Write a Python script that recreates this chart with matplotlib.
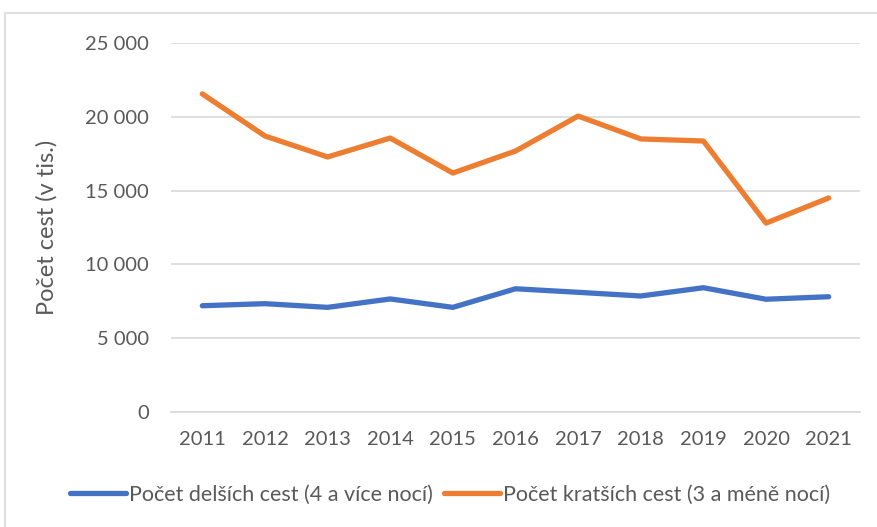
import matplotlib.pyplot as plt
from matplotlib.ticker import FuncFormatter
from matplotlib.patches import Rectangle

# values in thousands of trips
years = ['2011', '2012', '2013', '2014', '2015', '2016', '2017', '2018', '2019', '2020', '2021']
longer = [7200, 7340, 7090, 7660, 7090, 8350, 8110, 7860, 8420, 7640, 7810]
shorter = [21550, 18700, 17280, 18560, 16190, 17680, 20050, 18500, 18360, 12800, 14500]

plt.rcParams['font.family'] = ['Lato', 'DejaVu Sans']
text_col = '#595959'

fig = plt.figure(figsize=(8.77, 5.27), dpi=100)
ax = fig.add_axes([0.195, 0.2182, 0.7856, 0.7002])

# outer chart frame
fig.patches.append(Rectangle((5 / 877, -0.05), 1.0, 1 - 13 / 527 + 0.05, transform=fig.transFigure,
                             fill=False, edgecolor='#d9d9d9', linewidth=1.2))

x = range(len(years))
ax.plot(x, longer, color='#4472C4', linewidth=3.8, solid_capstyle='round',
        label='Počet delších cest (4 a více nocí)')
ax.plot(x, shorter, color='#ED7D31', linewidth=3.8, solid_capstyle='round',
        label='Počet kratších cest (3 a méně nocí)')

ax.set_xlim(-0.5, len(years) - 0.5)
ax.set_ylim(0, 25000)
ax.set_yticks(range(0, 25001, 5000))
ax.yaxis.set_major_formatter(FuncFormatter(lambda v, p: f'{int(v):,}'.replace(',', ' ')))
ax.set_xticks(list(x))
ax.set_xticklabels(years)

ax.grid(axis='y', color='#d9d9d9', linewidth=1.2)
ax.set_axisbelow(True)
for s in ['top', 'right', 'left']:
    ax.spines[s].set_visible(False)
ax.spines['bottom'].set_color('#d9d9d9')
ax.spines['bottom'].set_linewidth(1.2)
ax.tick_params(length=0, labelsize=14.5, colors=text_col)
ax.tick_params(axis='x', pad=14)
ax.tick_params(axis='y', pad=16)

ax.set_ylabel('Počet cest (v tis.)', fontsize=17, color=text_col, labelpad=20)

leg = fig.legend(loc='center', bbox_to_anchor=(0.513, 1 - 495 / 527), ncol=2, frameon=False,
                 fontsize=15.5, handlelength=2.6, handletextpad=0.15, columnspacing=0.5)
for t in leg.get_texts():
    t.set_color(text_col)

fig.savefig('out.png', dpi=100)
